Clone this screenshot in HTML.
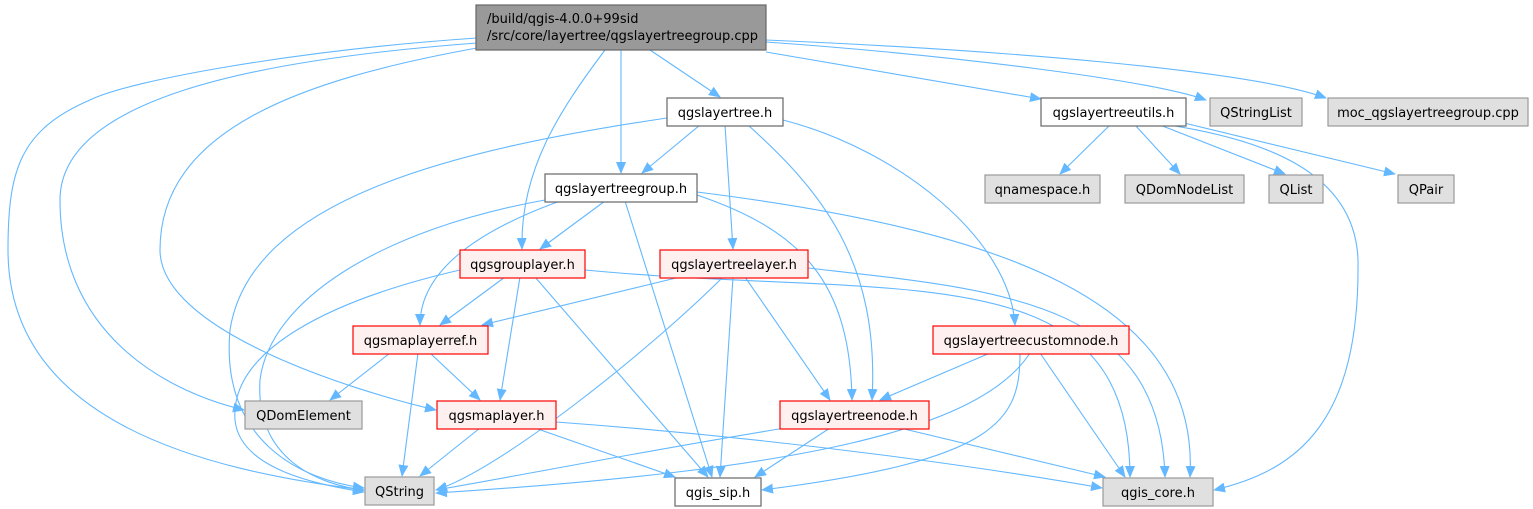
<!DOCTYPE html>
<html><head><meta charset="utf-8"><style>
body{margin:0;background:#fff;width:1533px;height:509px;overflow:hidden}
svg{display:block}
text{font-family:"DejaVu Sans","Liberation Sans",sans-serif;font-size:13px;fill:#000}
.e{fill:none;stroke:#63b8ff;stroke-width:1.1}
.w{fill:#fff;stroke:#666;stroke-width:1.2}
.g{fill:#e0e0e0;stroke:#999;stroke-width:1.2}
.r{fill:#fff0f0;stroke:#f00;stroke-width:1.2}
</style></head><body>
<svg width="1533" height="509" viewBox="0 0 1533 509">
<defs><marker id="a" markerWidth="12" markerHeight="10" refX="11" refY="5" orient="auto" markerUnits="userSpaceOnUse"><path d="M0,0 L12,5 L0,10 z" fill="#63b8ff"/></marker></defs>
<g class="e" marker-end="url(#a)">
<path d="M477,38 C300,50 130,80 90,100 C20,130 8,170 8,250 C8,420 200,470 364,490"/>
<path d="M477,43 C250,60 60,100 60,200 C60,330 160,390 244,410"/>
<path d="M477,48 C300,80 160,130 160,250 C160,330 350,390 436,410"/>
<path d="M605,50 C560,110 520,170 522,249"/>
<path d="M621,50 L621,173"/>
<path d="M650,50 L720,97"/>
<path d="M766,52 L1041,99"/>
<path d="M766,42 C950,55 1150,80 1206,100"/>
<path d="M766,40 C1000,50 1250,70 1326,98"/>
<path d="M667,118 C450,150 250,200 230,330 C220,440 300,480 364,488"/>
<path d="M700,125 L642,173"/>
<path d="M725,125 L733,249"/>
<path d="M748,125 C820,190 880,260 872,400"/>
<path d="M783,120 C900,150 1010,240 1015,325"/>
<path d="M1110,125 L1060,174"/>
<path d="M1135,125 L1180,174"/>
<path d="M1160,125 L1285,174"/>
<path d="M1180,122 L1395,174"/>
<path d="M1175,126 C1260,140 1355,170 1358,260 C1360,420 1300,470 1214,490"/>
<path d="M545,200 C380,230 270,300 260,380 C255,460 320,485 364,490"/>
<path d="M605,201 L540,249"/>
<path d="M560,201 C480,230 420,270 420,325"/>
<path d="M625,201 L712,477"/>
<path d="M697,195 C800,230 850,280 852,400"/>
<path d="M697,192 C1000,230 1200,300 1190,477"/>
<path d="M460,270 C330,300 230,350 235,420 C240,470 320,485 364,492"/>
<path d="M505,277 L440,325"/>
<path d="M520,277 L500,400"/>
<path d="M535,277 L708,477"/>
<path d="M585,270 C900,300 1130,250 1130,477"/>
<path d="M680,277 L482,325"/>
<path d="M723,277 C650,350 500,470 436,490"/>
<path d="M733,277 L720,477"/>
<path d="M745,277 L830,400"/>
<path d="M808,268 C1000,290 1160,300 1165,477"/>
<path d="M390,353 L330,400"/>
<path d="M430,353 L480,400"/>
<path d="M418,353 L402,476"/>
<path d="M990,353 L880,400"/>
<path d="M1030,353 C980,430 800,470 436,493"/>
<path d="M1020,353 C1020,420 1000,460 762,490"/>
<path d="M1040,353 L1125,477"/>
<path d="M480,428 L420,476"/>
<path d="M535,428 L675,477"/>
<path d="M556,422 C800,440 1000,470 1102,488"/>
<path d="M785,428 C650,450 550,470 436,490"/>
<path d="M830,428 L755,477"/>
<path d="M900,428 L1105,477"/>
</g>
<rect x="476" y="5" width="290" height="45" fill="#999" stroke="#666" stroke-width="1.2"/>
<text x="487" y="23">/build/qgis-4.0.0+99sid</text>
<text x="487" y="40">/src/core/layertree/qgslayertreegroup.cpp</text>
<rect class="w" x="667" y="98" width="116" height="28"/><text x="725" y="117" text-anchor="middle">qgslayertree.h</text>
<rect class="w" x="1041" y="98" width="145" height="28"/><text x="1113.5" y="117" text-anchor="middle">qgslayertreeutils.h</text>
<rect class="g" x="1210" y="98" width="92" height="28"/><text x="1256" y="117" text-anchor="middle">QStringList</text>
<rect class="g" x="1328" y="98" width="200" height="28"/><text x="1428" y="117" text-anchor="middle">moc_qgslayertreegroup.cpp</text>
<rect class="w" x="545" y="174" width="152" height="28"/><text x="621" y="193" text-anchor="middle">qgslayertreegroup.h</text>
<rect class="g" x="985" y="175" width="115" height="28"/><text x="1042.5" y="194" text-anchor="middle">qnamespace.h</text>
<rect class="g" x="1125" y="175" width="119" height="28"/><text x="1184.5" y="194" text-anchor="middle">QDomNodeList</text>
<rect class="g" x="1269" y="175" width="54" height="28"/><text x="1296" y="194" text-anchor="middle">QList</text>
<rect class="g" x="1398" y="175" width="56" height="28"/><text x="1426" y="194" text-anchor="middle">QPair</text>
<rect class="r" x="460" y="250" width="125" height="28"/><text x="522.5" y="269" text-anchor="middle">qgsgrouplayer.h</text>
<rect class="r" x="660" y="250" width="148" height="28"/><text x="734" y="269" text-anchor="middle">qgslayertreelayer.h</text>
<rect class="r" x="353" y="326" width="135" height="28"/><text x="420.5" y="345" text-anchor="middle">qgsmaplayerref.h</text>
<rect class="r" x="933" y="326" width="196" height="28"/><text x="1031" y="345" text-anchor="middle">qgslayertreecustomnode.h</text>
<rect class="g" x="245" y="401" width="117" height="28"/><text x="303.5" y="420" text-anchor="middle">QDomElement</text>
<rect class="r" x="437" y="401" width="119" height="28"/><text x="496.5" y="420" text-anchor="middle">qgsmaplayer.h</text>
<rect class="r" x="780" y="401" width="149" height="28"/><text x="854.5" y="420" text-anchor="middle">qgslayertreenode.h</text>
<rect class="g" x="365" y="477" width="69" height="28"/><text x="399.5" y="496" text-anchor="middle">QString</text>
<rect class="w" x="675" y="478" width="86" height="28"/><text x="718" y="497" text-anchor="middle">qgis_sip.h</text>
<rect class="g" x="1103" y="478" width="110" height="28"/><text x="1158" y="497" text-anchor="middle">qgis_core.h</text>
</svg>
</body></html>
